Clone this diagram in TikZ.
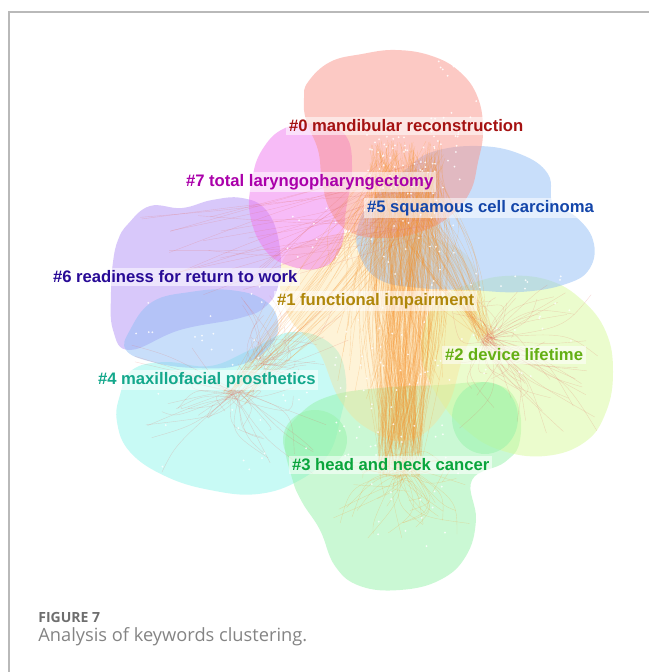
\documentclass[tikz,border=0pt]{standalone}
\usepackage{fontspec}
\setmainfont{Liberation Sans}
\newfontfamily\capfont{Open Sans}

\definecolor{fillRed}{RGB}{250,148,138}
\definecolor{fillPink}{RGB}{240,120,240}
\definecolor{fillBlue}{RGB}{145,190,245}
\definecolor{fillPurple}{RGB}{178,145,245}
\definecolor{fillCyan}{RGB}{145,245,235}
\definecolor{fillLime}{RGB}{215,250,155}
\definecolor{fillGreen}{RGB}{150,242,170}
\definecolor{fillYellow}{RGB}{252,220,140}
\definecolor{linkOrange}{RGB}{245,145,40}
\definecolor{linkRed}{RGB}{225,110,100}
\definecolor{txRed}{RGB}{165,18,18}
\definecolor{txPink}{RGB}{170,0,170}
\definecolor{txBlue}{RGB}{20,70,170}
\definecolor{txIndigo}{RGB}{40,10,150}
\definecolor{txGold}{RGB}{175,135,10}
\definecolor{txLime}{RGB}{100,175,20}
\definecolor{txTeal}{RGB}{20,168,140}
\definecolor{txGreen}{RGB}{10,165,60}
\definecolor{capGray}{RGB}{110,110,110}

\begin{document}
\begin{tikzpicture}[x=0.75pt,y=-0.75pt,line width=0.5pt,
  blob/.style={fill=#1,fill opacity=0.5,draw=none},
  link/.style={draw=#1,draw opacity=0.25,line width=0.3pt},
  spot/.style={fill=white,fill opacity=0.85},
  lbl/.style={anchor=west,fill=white,fill opacity=0.55,text opacity=1,
              inner sep=2pt,font=\fontsize{12.5}{14}\selectfont\bfseries}]
\useasboundingbox (0,0) rectangle (649,672);
% ---- frame ----
\draw[gray!55,line width=0.9pt] (9,672) -- (9,12) -- (649,12);
% ---- cluster areas ----
\fill[blob=fillCyan] plot[smooth cycle,tension=0.7] coordinates {
  (120,395) (132,370) (165,362) (210,366) (250,350) (292,332) (332,345)
  (346,380) (340,420) (328,455) (300,480) (258,494) (210,490) (165,476)
  (130,452) (117,422)};
\fill[blob=fillGreen] plot[smooth cycle,tension=0.7] coordinates {
  (292,478) (285,440) (300,414) (330,396) (380,388) (440,385) (490,383)
  (516,400) (520,440) (505,462) (472,480) (476,520) (466,556) (440,580)
  (400,590) (360,586) (335,566) (320,530) (302,502)};
\fill[blob=fillLime] plot[smooth cycle,tension=0.7] coordinates {
  (470,284) (505,276) (548,280) (582,300) (606,332) (613,372) (606,412)
  (585,442) (545,456) (500,450) (466,430) (440,400) (422,360) (426,320)
  (444,296)};
\fill[blob=fillYellow,fill opacity=0.35] plot[smooth cycle,tension=0.7] coordinates {
  (282,262) (320,238) (380,232) (440,240) (474,266) (478,310) (462,360)
  (445,410) (410,440) (370,430) (340,400) (318,350) (288,315)};
\fill[blob=fillPurple] plot[smooth cycle,tension=0.7] coordinates {
  (128,224) (150,206) (182,208) (212,200) (242,198) (266,210) (279,242)
  (279,282) (266,306) (240,318) (180,330) (130,350) (113,330) (111,292)
  (113,262) (118,240)};
\fill[blob=fillBlue] plot[smooth cycle,tension=0.7] coordinates {
  (130,330) (152,302) (190,292) (230,290) (264,300) (278,322) (270,346)
  (240,365) (195,368) (152,362) (126,350)};
\fill[blob=fillBlue] plot[smooth cycle,tension=0.7] coordinates {
  (432,152) (478,146) (520,154) (548,174) (553,204) (575,216) (593,240)
  (590,268) (566,284) (520,292) (470,290) (420,288) (380,280) (360,256)
  (358,226) (375,196) (405,170)};
\fill[blob=fillPink] plot[smooth cycle,tension=0.7] coordinates {
  (262,150) (285,128) (320,124) (346,136) (352,170) (346,210) (340,250)
  (320,268) (290,266) (265,250) (250,215) (252,180)};
\fill[blob=fillRed] plot[smooth cycle,tension=0.7] coordinates {
  (308,82) (330,62) (362,54) (396,50) (432,56) (460,72) (478,98) (483,132)
  (478,162) (470,192) (450,216) (420,232) (385,238) (350,232) (330,210)
  (322,180) (318,150) (306,120) (304,98)};
\fill[blob=fillGreen] (315,440) ellipse[x radius=32,y radius=30];
\fill[blob=fillGreen] (485,418) ellipse[x radius=33,y radius=36];
% ---- links: count / source x,y,spread / target x,y,spread / colour ----
\pgfmathsetseed{17}
\foreach \n/\ax/\ay/\asx/\asy/\bx/\by/\bsx/\bsy/\c in {
  220/405/170/35/30/400/455/22/22/linkOrange,
  90/405/170/40/30/390/330/60/70/linkOrange,
  50/405/180/30/30/485/338/10/6/linkOrange,
  60/485/338/6/4/525/360/75/75/linkRed,
  30/405/180/30/30/235/395/12/10/linkOrange,
  45/235/395/6/6/230/410/100/65/linkRed,
  25/260/363/5/5/300/330/60/40/linkRed,
  25/405/200/30/40/200/255/60/40/linkRed,
  50/405/470/10/10/400/500/70/40/linkOrange%
}{
  \foreach \k in {1,...,\n}{
    \pgfmathsetmacro\xa{\ax+\asx*rand}
    \pgfmathsetmacro\ya{\ay+\asy*rand}
    \pgfmathsetmacro\xb{\bx+\bsx*rand}
    \pgfmathsetmacro\yb{\by+\bsy*rand}
    \pgfmathsetmacro\xm{(\xa+\xb)/2+30*rand}
    \pgfmathsetmacro\ym{(\ya+\yb)/2+20*rand}
    \draw[link=\c] (\xa,\ya) .. controls (\xm,\ym) .. (\xb,\yb);
  }
}
% ---- keyword spots ----
\foreach \n/\cx/\cy/\sx/\sy in {
  90/410/175/50/50, 80/395/330/60/130, 30/520/320/60/60,
  20/200/320/70/50, 15/230/420/80/50, 12/310/210/30/50,
  15/420/510/50/40, 15/470/90/40/30%
}{
  \foreach \k in {1,...,\n}
    \fill[spot] (\cx+\sx*rand,\cy+\sy*rand) circle[radius=1];
}
% ---- cluster labels ----
\node[lbl,text=txRed]    (c0) at (286,126) {\#0 mandibular reconstruction};
\node[lbl,text=txPink]   (c7) at (183,182) {\#7 total laryngopharyngectomy};
\node[lbl,text=txBlue]   (c5) at (364,208) {\#5 squamous cell carcinoma};
\node[lbl,text=txIndigo] (c6) at (50,277)  {\#6 readiness for return to work};
\node[lbl,text=txGold]   (c1) at (274,301) {\#1 functional impairment};
\node[lbl,text=txLime]   (c2) at (442,355) {\#2 device lifetime};
\node[lbl,text=txTeal]   (c4) at (95,380)  {\#4 maxillofacial prosthetics};
\node[lbl,text=txGreen]  (c3) at (289,465) {\#3 head and neck cancer};
% ---- caption ----
\node[anchor=base west,inner sep=0pt,text=capGray,
      font=\capfont\bfseries\fontsize{10.5}{12}\selectfont] (fig) at (38,622) {FIGURE 7};
\node[anchor=base west,inner sep=0pt,text=capGray!85,
      font=\capfont\fontsize{13.7}{15}\selectfont] (cap) at (38,641) {Analysis of keywords clustering.};
\end{tikzpicture}
\end{document}
